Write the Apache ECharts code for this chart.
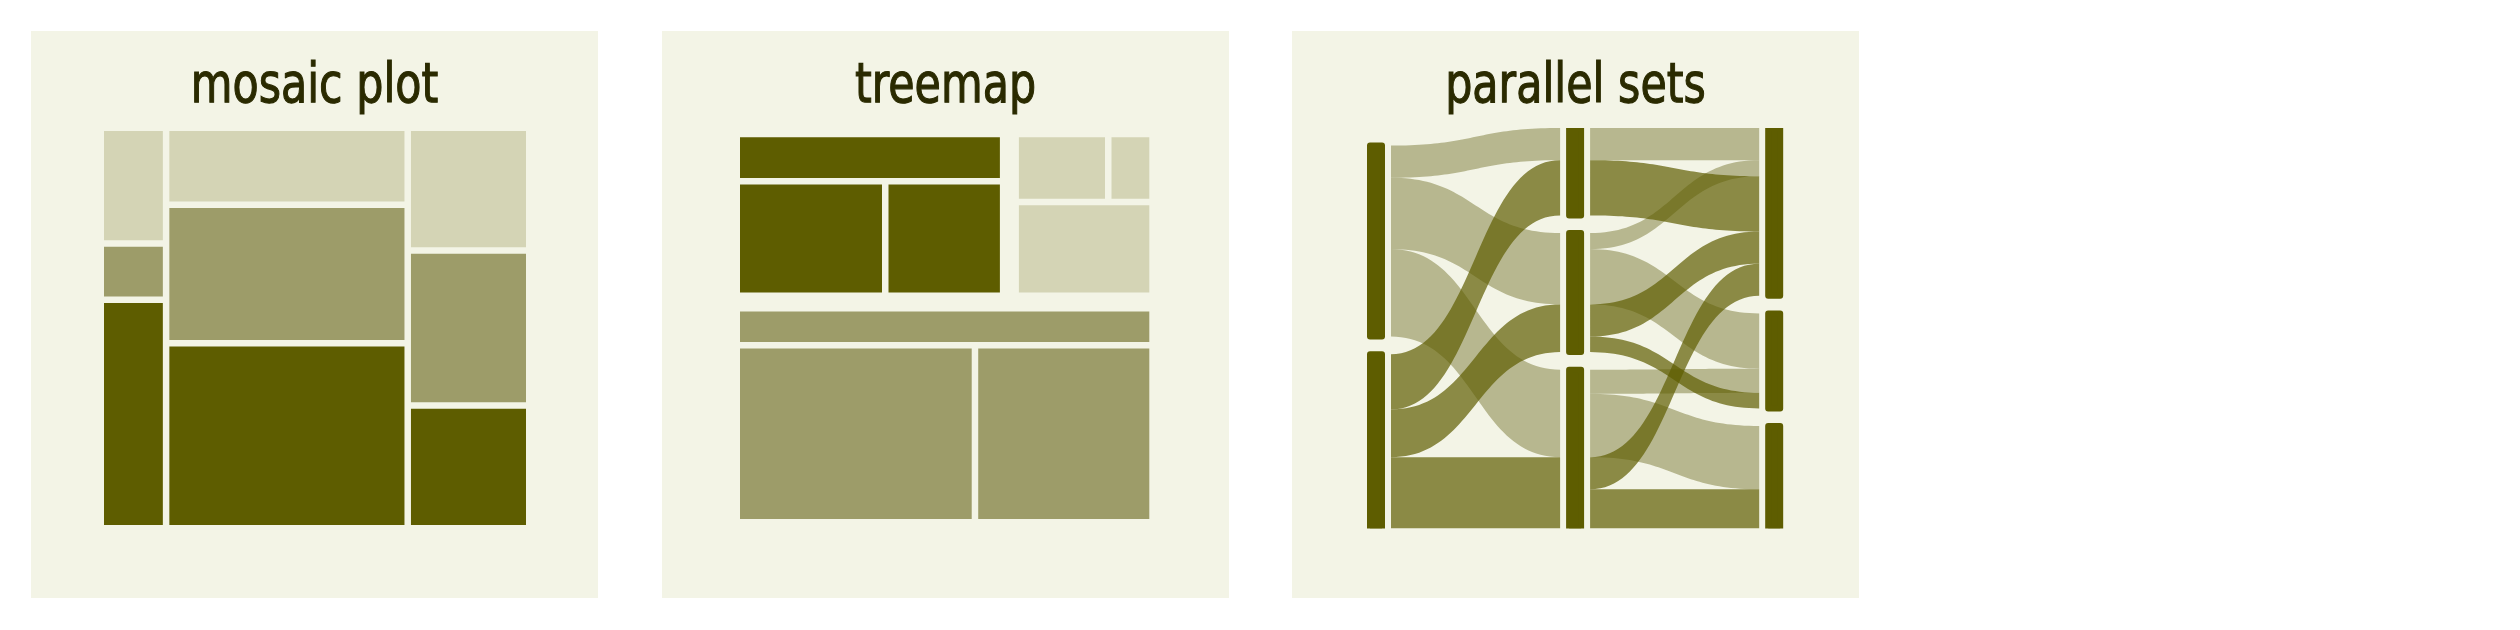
<!DOCTYPE html>
<html>
<head>
<meta charset="utf-8">
<script src="https://cdn.jsdelivr.net/npm/echarts@6/dist/echarts.min.js"></script>
<style>
  html, body { margin: 0; padding: 0; background: #ffffff; }
  #chart { width: 2520px; height: 630px; }
</style>
</head>
<body>
<div id="chart"></div>
<script>
// mosaic plot: one array per shade, columns left to right
var mosaicLight = [42, 107, 85];
var mosaicMid = [21, 201, 110];
var mosaicDark = [84, 264, 85];

// treemap leaves, three per group
var treeDark = [7.8, 11.6, 9.1];   // strip on top, then two boxes
var treeLight = [4.1, 1.8, 8.4];   // two boxes, then strip below
var treeMid = [8.7, 27.9, 20.6];   // strip on top, then two boxes

// parallel sets: one row per flow
var axis1Cats = ['a', 'b'];
var axis2Cats = ['x', 'y', 'z'];
var axis3Cats = ['u', 'v', 'w'];
var setsAxis1 = ['a', 'a', 'a', 'a', 'a', 'b', 'b', 'b', 'b', 'b'];
var setsAxis2 = ['x', 'y', 'y', 'z', 'z', 'x', 'y', 'y', 'z', 'z'];
var setsAxis3 = ['u', 'u', 'v', 'v', 'w', 'u', 'u', 'v', 'u', 'w'];
var setsValue = [32, 16, 55, 24, 63, 55, 32, 15.5, 32, 39];

var titles = ['mosaic plot', 'treemap', 'parallel sets'];

var panelColor = '#F3F4E6';
var titleColor = '#2A2A00';
var shades = ['#D4D4B5', '#9D9C69', '#5E5D00']; // light, mid, dark
var ribbonColors = ['rgba(157,156,105,0.7)', 'rgba(94,93,0,0.7)'];
// no narrow font is installed, so the title is squeezed with scaleX
var titleFont = '56px "DejaVu Sans Condensed", "DejaVu Sans", sans-serif';

function sum(arr) {
    return arr.reduce(function (a, b) { return a + b; }, 0);
}

// ---------- mosaic cells ----------
var mosaicData = [];
var colTotals = mosaicLight.map(function (v, i) { return v + mosaicMid[i] + mosaicDark[i]; });
var grand = sum(colTotals);
var xc = 0;
colTotals.forEach(function (tot, i) {
    var x1 = xc + tot / grand;
    var yc = 0;
    // stack from the bottom: dark, mid, light
    [[mosaicDark[i], 2], [mosaicMid[i], 1], [mosaicLight[i], 0]].forEach(function (cell) {
        var y1 = yc + cell[0] / tot;
        mosaicData.push([xc, x1, yc, y1, cell[1]]);
        yc = y1;
    });
    xc = x1;
});

function mosaicItem(params, api) {
    var x0 = api.value(0), x1 = api.value(1), y0 = api.value(2), y1 = api.value(3);
    var tl = api.coord([x0, y1]);
    var br = api.coord([x1, y0]);
    var g = 3.25;
    var l = tl[0] + (x0 > 1e-6 ? g : 0);
    var r = br[0] - (x1 < 1 - 1e-6 ? g : 0);
    var t = tl[1] + (y1 < 1 - 1e-6 ? g : 0);
    var b = br[1] - (y0 > 1e-6 ? g : 0);
    return {
        type: 'rect',
        shape: { x: l, y: t, width: r - l, height: b - t },
        style: { fill: shades[api.value(4)] }
    };
}

// ---------- treemap (slice and dice) ----------
function splitRect(rect, values, gap, vertical) {
    var total = sum(values);
    var len = (vertical ? rect.h : rect.w) - gap * (values.length - 1);
    var pos = vertical ? rect.y : rect.x;
    return values.map(function (v) {
        var s = len * v / total;
        var r = vertical ? { x: rect.x, y: pos, w: rect.w, h: s } : { x: pos, y: rect.y, w: s, h: rect.h };
        pos += s + gap;
        return r;
    });
}

function treeLayout(api) {
    var tl = api.coord([0, 1]);
    var br = api.coord([1, 0]);
    var root = { x: tl[0], y: tl[1], w: br[0] - tl[0], h: br[1] - tl[1] };
    var outer = 19, inner = 6.5;
    var rows = splitRect(root, [sum(treeDark) + sum(treeLight), sum(treeMid)], outer, true);
    var top = splitRect(rows[0], [sum(treeDark), sum(treeLight)], outer, false);
    var dRows = splitRect(top[0], [treeDark[0], treeDark[1] + treeDark[2]], inner, true);
    var dCols = splitRect(dRows[1], [treeDark[1], treeDark[2]], inner, false);
    var lRows = splitRect(top[1], [treeLight[0] + treeLight[1], treeLight[2]], inner, true);
    var lCols = splitRect(lRows[0], [treeLight[0], treeLight[1]], inner, false);
    var mRows = splitRect(rows[1], [treeMid[0], treeMid[1] + treeMid[2]], inner, true);
    var mCols = splitRect(mRows[1], [treeMid[1], treeMid[2]], inner, false);
    return [
        [dRows[0], dCols[0], dCols[1]],
        [lCols[0], lCols[1], lRows[1]],
        [mRows[0], mCols[0], mCols[1]]
    ];
}

var treeData = [];
[treeDark, treeLight, treeMid].forEach(function (grp, gi) {
    grp.forEach(function (v, li) { treeData.push([gi, li, v]); });
});
var treeShade = [2, 0, 1];

function treeItem(params, api) {
    var rects = treeLayout(api);
    var r = rects[api.value(0)][api.value(1)];
    return {
        type: 'rect',
        shape: { x: r.x, y: r.y, width: r.w, height: r.h },
        style: { fill: shades[treeShade[api.value(0)]] }
    };
}

// ---------- parallel sets ----------
var setsAxes = [setsAxis1, setsAxis2, setsAxis3];
var setsCats = [axis1Cats, axis2Cats, axis3Cats];
var setsGap = 17.5;

// category ranges on every axis, stacked up from the bottom
var catRange = setsAxes.map(function (col, k) {
    var cats = setsCats[k], range = {}, y = 0;
    for (var i = cats.length - 1; i >= 0; i--) {
        var tot = 0;
        col.forEach(function (c, j) { if (c === cats[i]) tot += setsValue[j]; });
        range[cats[i]] = [y, y + tot];
        y += tot + setsGap;
    }
    return range;
});
var setsMax = 0;
catRange.forEach(function (r) {
    Object.keys(r).forEach(function (c) { setsMax = Math.max(setsMax, r[c][1]); });
});

var barData = [];
catRange.forEach(function (r, k) {
    setsCats[k].forEach(function (c) { barData.push([k + 1, r[c][0], r[c][1]]); });
});

var ribbonData = [];
for (var k = 0; k < 2; k++) {
    var groups = [];
    setsValue.forEach(function (v, j) {
        var f = axis1Cats.indexOf(setsAxis1[j]);
        var l = setsCats[k].indexOf(setsAxes[k][j]);
        var r = setsCats[k + 1].indexOf(setsAxes[k + 1][j]);
        var g = groups.filter(function (g) { return g.f === f && g.l === l && g.r === r; })[0];
        if (g) g.value += v;
        else groups.push({ f: f, l: l, r: r, value: v });
    });
    // left ends: inside each category, by fill then by target
    var byLeft = groups.slice().sort(function (a, b) { return a.l - b.l || a.f - b.f || a.r - b.r; });
    var cursor = {};
    byLeft.forEach(function (g) {
        var cat = setsCats[k][g.l];
        if (cursor[cat] === undefined) cursor[cat] = catRange[k][cat][1];
        g.lt = cursor[cat]; g.lb = cursor[cat] - g.value; cursor[cat] = g.lb;
    });
    var byRight = groups.slice().sort(function (a, b) { return a.r - b.r || a.f - b.f || a.l - b.l; });
    cursor = {};
    byRight.forEach(function (g) {
        var cat = setsCats[k + 1][g.r];
        if (cursor[cat] === undefined) cursor[cat] = catRange[k + 1][cat][1];
        g.rt = cursor[cat]; g.rb = cursor[cat] - g.value; cursor[cat] = g.rb;
    });
    groups.forEach(function (g) {
        ribbonData.push([k + 1, g.lt, g.lb, k + 2, g.rt, g.rb, g.f]);
    });
}

function bez(x0, y0, x1, y1, t) {
    var xm = (x0 + x1) / 2, s = 1 - t;
    return [
        s * s * s * x0 + 3 * s * s * t * xm + 3 * s * t * t * xm + t * t * t * x1,
        s * s * s * y0 + 3 * s * s * t * y0 + 3 * s * t * t * y1 + t * t * t * y1
    ];
}

function ribbonItem(params, api) {
    var a = api.coord([api.value(0), api.value(1)]);
    var b = api.coord([api.value(0), api.value(2)]);
    var c = api.coord([api.value(3), api.value(4)]);
    var d = api.coord([api.value(3), api.value(5)]);
    var x0 = a[0] + 15, x1 = c[0] - 15;
    var pts = [], n = 48, i;
    for (i = 0; i <= n; i++) pts.push(bez(x0, a[1], x1, c[1], i / n));
    for (i = n; i >= 0; i--) pts.push(bez(x0, b[1], x1, d[1], i / n));
    return {
        type: 'polygon',
        shape: { points: pts },
        style: { fill: ribbonColors[api.value(6)] }
    };
}

function barItem(params, api) {
    var top = api.coord([api.value(0), api.value(2)]);
    var bot = api.coord([api.value(0), api.value(1)]);
    return {
        type: 'rect',
        shape: { x: top[0] - 6, y: top[1], width: 12, height: bot[1] - top[1] },
        style: { fill: shades[2], stroke: shades[2], lineWidth: 6, lineJoin: 'round' }
    };
}

// ---------- chart ----------
var panelX = [31, 662, 1292];
var panelSize = 567;

var graphics = [];
panelX.forEach(function (x, i) {
    graphics.push({
        type: 'rect', z: -10,
        shape: { x: x, y: 31, width: panelSize, height: panelSize },
        style: { fill: panelColor }
    });
    graphics.push({
        type: 'text', z: 10,
        x: x + panelSize / 2, y: 87.5,
        scaleX: 0.85,
        style: {
            text: titles[i], font: titleFont, fill: titleColor,
            stroke: titleColor, lineWidth: 1.1,
            textAlign: 'center', textVerticalAlign: 'middle'
        }
    });
});

function hiddenAxis(idx, min, max) {
    return { type: 'value', gridIndex: idx, min: min, max: max, show: false };
}

var myChart = echarts.init(document.getElementById('chart'), null, { renderer: 'canvas' });
myChart.setOption({
    backgroundColor: '#ffffff',
    animation: false,
    graphic: { elements: graphics },
    grid: [
        { left: 104, top: 131, width: 422, height: 394 },
        { left: 740, top: 137.3, width: 409.3, height: 381.7 },
        { left: 1356.1, top: 128, width: 438, height: 400.5 }
    ],
    xAxis: [hiddenAxis(0, 0, 1), hiddenAxis(1, 0, 1), hiddenAxis(2, 0.9, 3.1)],
    yAxis: [hiddenAxis(0, 0, 1), hiddenAxis(1, 0, 1), hiddenAxis(2, 0, setsMax)],
    series: [
        {
            type: 'custom', xAxisIndex: 0, yAxisIndex: 0,
            renderItem: mosaicItem, data: mosaicData, silent: true
        },
        {
            type: 'custom', xAxisIndex: 1, yAxisIndex: 1,
            renderItem: treeItem, data: treeData, silent: true
        },
        {
            type: 'custom', xAxisIndex: 2, yAxisIndex: 2, clip: true,
            renderItem: ribbonItem, data: ribbonData, silent: true
        },
        {
            type: 'custom', xAxisIndex: 2, yAxisIndex: 2, clip: true,
            renderItem: barItem, data: barData, silent: true
        }
    ]
});
</script>
</body>
</html>
